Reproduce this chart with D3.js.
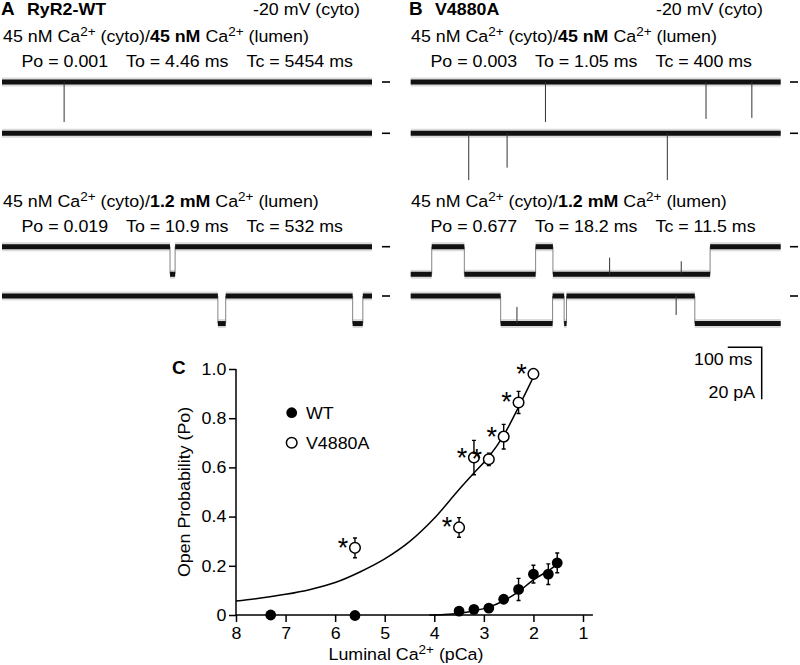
<!DOCTYPE html>
<html>
<head>
<meta charset="utf-8">
<script src="https://cdn.jsdelivr.net/npm/d3@7"></script>
<style>
  html, body { margin: 0; padding: 0; background: #fff; }
  svg { display: block; }
</style>
</head>
<body>
<svg id="fig" width="800" height="665"></svg>
<script>
// ---------------- DATA ----------------
// single-channel records: time in ms, current in pA (downward = open)
const traceDurationMs = 1090;
const openAmplitudePA = -10.6;
// 45 nM luminal Ca2+: brief spikes [time ms, depth pA]
const wtLowRow1Spikes = [[183, -15.4]];
const wtLowRow2Spikes = [];
const mutLowRow1Spikes = [[397, -15.4], [870, -14.2], [1005, -13.8]];
const mutLowRow2Spikes = [[171, -18.0], [284, -13.2], [756, -18.0]];
// 1.2 mM luminal Ca2+: open intervals [start ms, end ms]
const wtHighRow1Open = [[495, 510]];
const wtHighRow2Open = [[636, 659], [1033, 1063]];
const mutHighRow1Open = [[0, 62], [158, 368], [419, 882]];
const mutHighRow2Open = [[265, 418], [452, 459], [837, 1090]];
// partial spikes relative to local level [time ms, delta pA]
const wtHighRow1Spikes = [];
const wtHighRow2Spikes = [];
const mutHighRow1Spikes = [[586, 6.4], [797, 5.0]];
const mutHighRow2Spikes = [[313, 6.4], [782, -7.3]];

const statsWtLow = ["Po = 0.001", "To = 4.46 ms", "Tc = 5454 ms"];
const statsMutLow = ["Po = 0.003", "To = 1.05 ms", "Tc = 400 ms"];
const statsWtHigh = ["Po = 0.019", "To = 10.9 ms", "Tc = 532 ms"];
const statsMutHigh = ["Po = 0.677", "To = 18.2 ms", "Tc = 11.5 ms"];

const scaleBarMs = 100;
const scaleBarPA = 20;

// Panel C: luminal pCa vs open probability
const wtPCa = [7.3, 5.6, 3.5, 3.2, 2.9, 2.6, 2.3, 2.0, 1.7, 1.52];
const wtPo  = [0.0, -0.002, 0.016, 0.023, 0.028, 0.064, 0.104, 0.166, 0.166, 0.212];
const wtErr = [0.0, 0.0, 0.0, 0.0, 0.005, 0.008, 0.045, 0.036, 0.042, 0.04];
const mutPCa = [5.6, 3.5, 3.2, 2.9, 2.6, 2.3, 2.0];
const mutPo  = [0.273, 0.356, 0.64, 0.633, 0.725, 0.864, 0.98];
const mutErr = [0.04, 0.04, 0.07, 0.025, 0.05, 0.045, 0.0];
const mutFitPCa = [8.0, 7.5, 7.0, 6.5, 6.0, 5.5, 5.0, 4.5, 4.0, 3.5, 3.2, 2.9, 2.6, 2.3, 1.97];
const mutFitPo  = [0.057, 0.069, 0.084, 0.104, 0.132, 0.175, 0.228, 0.298, 0.393, 0.51, 0.577, 0.643, 0.73, 0.845, 0.98];
const wtFitPCa = [4.1, 3.8, 3.5, 3.2, 2.9, 2.6, 2.3, 2.0, 1.7, 1.52];
const wtFitPo  = [0.0, 0.002, 0.007, 0.017, 0.032, 0.058, 0.095, 0.143, 0.18, 0.206];
const xTicks = [8, 7, 6, 5, 4, 3, 2, 1];
const yTicks = [0, 0.2, 0.4, 0.6, 0.8, 1.0];

// ---------------- DRAWING ----------------
const FONT = "'Liberation Sans', Arial, Helvetica, sans-serif";
const FS = 16.5, SX = 1.08;
const svg = d3.select("#fig");

function richText(x, y, parts, size) {
  const g = svg.append("g").attr("transform", `translate(${x},${y}) scale(${SX},1)`);
  const t = g.append("text").attr("font-family", FONT).attr("font-size", size || FS)
    .attr("fill", "#000").attr("xml:space", "preserve");
  let raised = false;
  parts.forEach(p => {
    const ts = t.append("tspan").text(p.t);
    if (p.b) ts.attr("font-weight", "bold");
    if (p.sup) { ts.attr("font-size", 12.5).attr("dy", -6); raised = true; }
    else if (raised) { ts.attr("dy", 6); raised = false; }
  });
  return t;
}
function condParts(lumen) {
  return [{t: "45 nM Ca"}, {t: "2+", sup: 1}, {t: " (cyto)/"}, {t: lumen, b: 1},
          {t: " Ca"}, {t: "2+", sup: 1}, {t: " (lumen)"}];
}

// headers
richText(1, 15, [{t: "A", b: 1}], 17.5);
richText(27, 15, [{t: "RyR2-WT", b: 1}]);
richText(253, 15, [{t: "-20 mV (cyto)"}]);
richText(409, 15, [{t: "B", b: 1}], 17.5);
richText(435, 15, [{t: "V4880A", b: 1}]);
richText(656, 15, [{t: "-20 mV (cyto)"}]);

richText(3, 42, condParts("45 nM"));
richText(411, 42, condParts("45 nM"));
richText(3, 207, condParts("1.2 mM"));
richText(411, 207, condParts("1.2 mM"));

function stats(x0, y, arr) {
  const offs = [0, 104.5, 225];
  arr.forEach((s, i) => richText(x0 + offs[i], y, [{t: s}]));
}
stats(21.5, 67, statsWtLow);
stats(430.5, 67, statsMutLow);
stats(21.5, 232, statsWtHigh);
stats(430.5, 232, statsMutHigh);

// traces
function drawTrace(x0, rowY, openIntervals, spikes, dashX) {
  const tx = d3.scaleLinear().domain([0, traceDurationMs]).range([x0, x0 + 370]);
  const cy = d3.scaleLinear().domain([0, -scaleBarPA]).range([rowY, rowY + 52]);
  const segs = [];
  let t = 0;
  openIntervals.forEach(([a, b]) => {
    if (a > t) segs.push({a: t, b: a, lvl: 0});
    segs.push({a: a, b: b, lvl: openAmplitudePA});
    t = b;
  });
  if (t < traceDurationMs) segs.push({a: t, b: traceDurationMs, lvl: 0});
  const g = svg.append("g");
  for (let i = 1; i < segs.length; i++) {
    g.append("line").attr("x1", tx(segs[i].a)).attr("x2", tx(segs[i].a))
      .attr("y1", cy(segs[i - 1].lvl)).attr("y2", cy(segs[i].lvl))
      .attr("stroke", "#777").attr("stroke-width", 0.9);
  }
  segs.forEach(s => {
    g.append("line").attr("x1", tx(s.a)).attr("x2", tx(s.b))
      .attr("y1", cy(s.lvl)).attr("y2", cy(s.lvl))
      .attr("stroke", "#888").attr("stroke-opacity", 0.3).attr("stroke-width", 9);
  });
  segs.forEach(s => {
    g.append("line").attr("x1", tx(s.a)).attr("x2", tx(s.b))
      .attr("y1", cy(s.lvl)).attr("y2", cy(s.lvl))
      .attr("stroke", "#111").attr("stroke-width", 5);
  });
  spikes.forEach(([ts, d]) => {
    const seg = segs.find(s => ts >= s.a && ts <= s.b) || {lvl: 0};
    g.append("line").attr("x1", tx(ts)).attr("x2", tx(ts))
      .attr("y1", cy(seg.lvl)).attr("y2", cy(seg.lvl + d))
      .attr("stroke", "#333").attr("stroke-width", 1);
  });
  g.append("line").attr("x1", dashX).attr("x2", dashX + 8)
    .attr("y1", cy(0)).attr("y2", cy(0)).attr("stroke", "#000").attr("stroke-width", 1.6);
  return tx;
}
drawTrace(2, 82, [], wtLowRow1Spikes, 382);
drawTrace(2, 133.3, [], wtLowRow2Spikes, 382);
drawTrace(410.7, 82, [], mutLowRow1Spikes, 790);
drawTrace(410.7, 133.3, [], mutLowRow2Spikes, 790);
drawTrace(2, 246.7, wtHighRow1Open, wtHighRow1Spikes, 382);
drawTrace(2, 296, wtHighRow2Open, wtHighRow2Spikes, 382);
drawTrace(410.7, 246.7, mutHighRow1Open, mutHighRow1Spikes, 790);
const tB = drawTrace(410.7, 296, mutHighRow2Open, mutHighRow2Spikes, 790);

// scale bar
{
  const barRight = 761.7, barTop = 347.3;
  const w = tB(scaleBarMs) - tB(0);
  const h = d3.scaleLinear().domain([0, 20]).range([0, 52])(scaleBarPA);
  svg.append("path").attr("d", `M${barRight - w},${barTop}H${barRight}V${barTop + h}`)
    .attr("fill", "none").attr("stroke", "#000").attr("stroke-width", 1.5);
  richText(694, 365, [{t: scaleBarMs + " ms"}]);
  richText(708.5, 397.5, [{t: scaleBarPA + " pA"}]);
}

// ---------------- Panel C ----------------
const x = d3.scaleLinear().domain([8, 1]).range([236, 583]);
const y = d3.scaleLinear().domain([0, 1]).range([615, 369]);

richText(172, 374, [{t: "C", b: 1}], 17.5);

const xAxis = svg.append("g").attr("transform", `translate(0,${y(0)})`)
  .call(d3.axisBottom(x).tickValues(xTicks).tickFormat(d3.format("d")).tickSize(7).tickPadding(5).tickSizeOuter(0));
const yAxis = svg.append("g").attr("transform", `translate(${x(8)},0)`)
  .call(d3.axisLeft(y).tickValues(yTicks).tickFormat(d => d === 0 ? "0" : d3.format(".1f")(d)).tickSize(7).tickPadding(2).tickSizeOuter(0));
[xAxis, yAxis].forEach(a => {
  a.select(".domain").remove();
  a.selectAll("line").attr("stroke", "#000").attr("stroke-width", 1.5);
  a.selectAll("text").attr("font-family", FONT).attr("font-size", FS).attr("fill", "#000")
    .attr("transform", `scale(${SX},1)`);
});
svg.append("line").attr("x1", x(8)).attr("x2", x(8)).attr("y1", y(0) + 0.75).attr("y2", y(1))
  .attr("stroke", "#000").attr("stroke-width", 1.5);
svg.append("line").attr("x1", x(8)).attr("x2", x(0.8)).attr("y1", y(0)).attr("y2", y(0))
  .attr("stroke", "#000").attr("stroke-width", 1.5);

// axis titles
richText(328.5, 659.5, [{t: "Luminal Ca"}, {t: "2+", sup: 1}, {t: " (pCa)"}]);
{
  const g = svg.append("g").attr("transform", `translate(190,${(y(0) + y(1)) / 2}) rotate(-90) scale(${SX},1)`);
  g.append("text").attr("text-anchor", "middle").attr("font-family", FONT).attr("font-size", FS)
    .text("Open Probability (Po)");
}

// fit curves
const line = d3.line().x(d => x(d[0])).y(d => y(d[1])).curve(d3.curveMonotoneX);
svg.append("path").datum(mutFitPCa.map((p, i) => [p, mutFitPo[i]])).attr("d", line)
  .attr("fill", "none").attr("stroke", "#000").attr("stroke-width", 1.5);
svg.append("path").datum(wtFitPCa.map((p, i) => [p, wtFitPo[i]])).attr("d", line)
  .attr("fill", "none").attr("stroke", "#000").attr("stroke-width", 1.5);

// error bars
function errBars(pcas, pos, errs) {
  pcas.forEach((p, i) => {
    if (!errs[i]) return;
    const cx = x(p), y1 = y(pos[i] + errs[i]), y2 = y(pos[i] - errs[i]);
    svg.append("path").attr("d", `M${cx},${y1}V${y2}M${cx - 2},${y1}H${cx + 2}M${cx - 2},${y2}H${cx + 2}`)
      .attr("stroke", "#000").attr("stroke-width", 1.4).attr("fill", "none");
  });
}
errBars(wtPCa, wtPo, wtErr);
errBars(mutPCa, mutPo, mutErr);

// points
wtPCa.forEach((p, i) => {
  svg.append("circle").attr("cx", x(p)).attr("cy", y(wtPo[i])).attr("r", 5.4).attr("fill", "#000");
});
mutPCa.forEach((p, i) => {
  svg.append("circle").attr("cx", x(p)).attr("cy", y(mutPo[i])).attr("r", 5.3)
    .attr("fill", "#fff").attr("stroke", "#000").attr("stroke-width", 1.5);
  svg.append("text").attr("x", x(p) - 12).attr("y", y(mutPo[i]) + 9)
    .attr("text-anchor", "middle").attr("font-family", FONT).attr("font-size", 27).text("*");
});

// legend
svg.append("circle").attr("cx", 291.7).attr("cy", 412.7).attr("r", 5.4).attr("fill", "#000");
svg.append("circle").attr("cx", 291.7).attr("cy", 442.7).attr("r", 5.3)
  .attr("fill", "#fff").attr("stroke", "#000").attr("stroke-width", 1.5);
richText(306, 419, [{t: "WT"}]);
richText(306, 449, [{t: "V4880A"}]);
</script>
</body>
</html>
